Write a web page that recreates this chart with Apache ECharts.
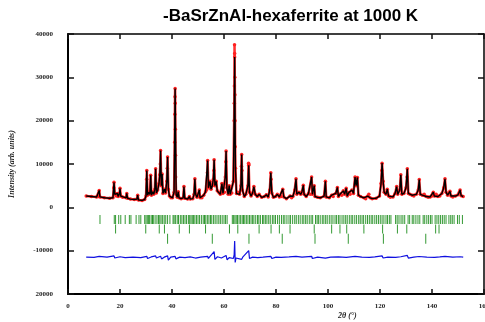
<!DOCTYPE html>
<html><head><meta charset="utf-8">
<script src="https://cdn.jsdelivr.net/npm/echarts@6/dist/echarts.min.js"></script>
<style>html,body{margin:0;padding:0;background:#fff}#c{width:485px;height:322px}</style>
</head><body><div id="c"></div><script>
// Calculated profile vertices [2theta, intensity]
const calc = [
[7.0,2600],[9,2500],[11,2400],[11.7,2500],[12.0,3900],[12.3,2400],[14,2200],[16,2100],[17.3,2200],[17.7,5800],[18.0,3000],[18.6,2600],[19.0,3200],[19.3,2500],[19.8,3200],[20.0,4400],[20.3,2600],[21,2300],[22.3,2200],[22.6,3200],[22.9,2100],[24,1900],[25.5,1800],[26.5,1900],[26.8,2800],[27.1,1700],[28.5,1600],[29.5,1800],[30.0,2600],[30.3,8500],[30.6,2800],[31.1,3500],[31.5,3000],[31.8,7400],[32.1,2800],[32.6,3600],[33.0,3000],[33.4,4200],[33.7,8900],[34.0,3300],[34.5,4000],[35.0,5500],[35.3,7500],[35.6,13100],[35.9,5000],[36.2,7700],[36.5,3200],[37.1,4200],[37.5,3300],[38.0,6000],[38.3,11600],[38.6,4200],[39.0,2600],[39.6,2200],[40.2,2200],[40.8,3500],[41.2,27400],[41.6,3000],[42.0,2300],[42.4,3600],[42.7,2200],[43.5,2000],[44.3,2200],[44.6,4800],[44.9,2100],[46,1900],[46.7,2500],[47.0,1900],[48.0,2000],[48.5,3000],[48.8,6600],[49.1,3000],[49.6,2300],[50.2,2600],[50.5,4000],[50.8,2200],[51.5,2200],[52.2,2800],[52.9,3600],[53.3,4000],[53.7,10800],[54.0,4500],[54.6,6000],[55.0,4200],[55.5,5000],[55.9,6500],[56.2,11000],[56.5,5000],[57.0,6000],[57.4,3800],[58.0,3500],[58.6,3000],[59.2,5500],[59.6,3200],[60.2,3500],[60.5,7000],[60.8,13000],[61.1,4500],[61.6,3000],[62.0,5000],[62.4,3000],[63.0,3300],[63.6,6000],[63.9,20000],[64.1,34700],[64.4,9000],[64.8,3200],[65.3,3500],[66.0,3000],[66.5,5000],[66.8,12200],[67.1,4000],[67.8,2500],[68.4,3000],[69.2,5000],[69.5,9700],[69.8,3500],[70.4,2600],[71.0,3300],[71.5,4800],[72.0,3000],[72.8,2500],[73.5,3000],[74.5,2300],[75.5,2500],[76.3,2900],[77.0,2400],[77.6,4000],[78.0,8000],[78.4,3300],[79.0,2300],[79.8,2500],[80.5,3000],[81.3,2400],[82.0,2500],[82.6,4200],[83.0,2400],[84.0,2000],[85.4,2600],[86.0,2200],[86.5,2500],[87.2,4000],[87.7,6600],[88.0,3000],[88.8,3500],[89.5,3000],[90.0,3600],[90.5,5100],[90.8,3000],[91.6,2500],[92.5,3200],[93.2,3000],[93.7,7000],[94.0,3000],[94.7,5000],[95.0,2500],[96.0,2300],[97.0,2200],[98.5,2600],[99.0,6000],[99.3,2400],[100.5,2200],[101.4,2800],[102.0,2500],[103.0,3200],[103.6,4600],[104.0,2500],[104.6,3000],[105.3,2800],[105.9,3800],[106.4,3000],[107.0,4400],[107.4,2600],[108.0,3400],[108.5,3000],[109.2,4000],[109.8,3200],[110.4,7000],[110.8,5000],[111.3,6900],[111.7,2800],[112.5,2500],[113.8,2200],[114.5,2000],[115.3,2600],[115.7,3000],[116.2,2200],[117.0,2000],[118.5,2100],[119.8,2600],[120.4,5500],[120.8,10200],[121.2,6000],[121.6,3500],[122.3,3000],[122.8,4200],[123.3,2600],[124.0,2300],[125.0,2400],[125.8,3200],[126.4,4800],[126.8,3000],[127.6,4000],[128.0,7500],[128.4,3000],[129.2,3200],[130.0,4500],[130.5,8900],[130.9,3200],[131.5,3000],[132.3,2800],[133.0,2600],[134.0,3000],[134.7,4000],[135.1,6400],[135.5,3000],[136.3,2800],[137.0,3000],[137.8,2500],[138.5,2300],[139.3,2400],[140.0,2600],[140.5,3500],[140.9,2600],[141.6,3000],[142.3,2500],[143.0,2600],[143.8,3200],[144.5,4500],[145.0,6600],[145.4,3500],[146.0,2800],[146.9,3700],[147.3,2600],[148.0,2400],[149.0,2600],[150.0,2900],[150.5,3500],[150.8,4000],[151.2,2700],[152.0,2500]
];
const obsExtra = [
[17.6,4500],[30.25,6500],[35.5,10000],[38.2,9000],[41.05,15000],[41.1,21500],[41.15,25500],[41.25,24000],[41.3,18000],[41.35,12000],[41.4,7000],
[53.6,8000],[56.1,8500],[60.7,10500],[63.95,24000],[64.0,28000],[64.05,37500],[64.1,35500],[64.15,30000],[64.2,26000],[64.25,20000],[64.3,14000],
[66.7,9500],[66.9,8500],[69.45,10200],[69.55,9900],[78.1,6500],[120.7,8500],[130.4,7000]
];
// Difference curve
const diff = [
[7,-11500],[10,-11550],[12,-11300],[12.3,-11600],[15,-11500],[17.7,-11200],[18,-11700],[20,-11400],[22,-11600],[25,-11500],[28,-11600],[30.3,-11300],[30.6,-11800],[32,-11450],[33.7,-11200],[34,-11700],[35.6,-11300],[36,-11900],[37,-11500],[38.3,-11200],[38.6,-12200],[39.5,-11500],[41.2,-11300],[41.5,-11900],[43,-11500],[45,-11600],[47,-11450],[49,-11700],[51,-11500],[53.7,-11300],[54,-11800],[56.2,-10200],[56.5,-12000],[57.5,-11400],[59,-11700],[60.8,-11100],[61.2,-12100],[62,-11600],[63.6,-11800],[63.9,-11000],[64.1,-7800],[64.3,-12700],[64.6,-11700],[65.3,-11400],[66.8,-12000],[67.2,-11500],[69.5,-10000],[69.8,-11800],[71,-11500],[73,-11600],[75,-11500],[78,-11300],[78.4,-11800],[80,-11500],[82,-11550],[85,-11450],[87.7,-11300],[88,-11700],[90,-11500],[93.7,-11300],[94,-11800],[96,-11500],[99,-11700],[101,-11500],[104,-11450],[107,-11550],[110.4,-11300],[111,-11700],[113,-11500],[116,-11550],[118,-11450],[120.8,-11200],[121.2,-11700],[123,-11500],[126,-11550],[128,-11400],[130.5,-11100],[130.9,-11700],[133,-11500],[135,-11350],[135.5,-11700],[138,-11500],[141,-11550],[143,-11450],[145,-11300],[145.4,-11700],[148,-11500],[150.8,-11400],[152,-11500]
];
// Bragg reflection positions (three phases)
const bragg1 = [12.3,17.8,18.3,19.5,20.3,22.0,23.6,24.2,26.2,27.3,28.0,29.5,30.0,30.5,31.0,31.4,32.0,32.5,32.8,33.5,34.2,34.8,35.3,35.8,36.4,37.0,37.6,38.3,39.2,40.4,40.8,41.3,42.0,42.5,43.2,43.8,44.4,45.0,45.6,46.3,46.8,47.3,47.8,48.3,48.8,49.4,50.0,50.6,51.3,52.0,52.5,53.0,53.6,54.2,54.8,55.3,56.0,56.6,57.3,58.0,58.6,59.3,60.0,60.6,61.2,63.2,63.7,64.2,64.7,65.2,65.8,66.4,67.0,67.5,68.0,68.6,69.2,69.8,70.4,71.0,71.5,72.2,72.9,73.4,74.0,74.8,75.3,75.9,76.5,77.2,77.8,78.6,79.2,79.8,80.6,81.3,82.1,82.8,83.4,84.2,85.0,85.6,86.4,87.2,87.8,88.6,89.3,90.1,90.7,91.4,92.0,92.8,93.5,94.1,95.2,95.8,96.3,97.0,97.8,98.4,99.1,99.7,100.5,101.2,101.9,102.7,103.3,104.0,104.6,105.4,106.1,106.8,107.4,108.2,108.9,109.5,110.3,111.0,111.8,112.4,113.1,113.7,114.5,115.2,115.9,116.6,117.2,118.0,118.7,119.4,120.1,120.8,121.5,122.3,122.9,123.6,124.2,126.0,126.6,127.3,128.1,128.8,129.5,130.8,131.4,132.4,133.0,133.8,134.6,135.3,136.6,137.2,138.0,138.7,139.4,140.0,141.2,141.9,142.6,143.3,144.0,144.7,145.4,146.5,147.2,147.8,148.5,149.8,150.5,151.7];
const bragg2 = [18.3,29.9,35.1,37.1,42.8,46.7,52.9,62.1,65.3,73.5,78.1,81.3,85.4,94.7,101.4,104.6,107.2,113.8,121.0,126.7,130.3,141.4,142.7];
const bragg3 = [38.3,55.5,69.6,82.4,95.0,107.8,121.3,137.6];
// Axis ticks
const yTickValues = [-20000,-10000,0,10000,20000,30000,40000];
const yTickText = ["20000","-10000","0","10000","20000","30000","40000"];
const xTickValues = [0,20,40,60,80,100,120,140,160];

const observed = calc.concat(obsExtra).sort((a,b)=>a[0]-b[0]);
const rowY = [-2800,-5000,-7250];

const chart = echarts.init(document.getElementById('c'));
const labelFont = {fontFamily:'Liberation Serif', fontWeight:'bold', fontSize:7, color:'#222'};
chart.setOption({
  animation:false,
  backgroundColor:'#fff',
  title:{text:'-BaSrZnAl-hexaferrite at 1000 K', left:158, top:3,
    textStyle:{fontFamily:'Liberation Sans', fontWeight:'bold', fontSize:17, color:'#000'}},
  grid:{left:68, right:1, top:34, bottom:28, outerBoundsMode:'none', containLabel:false},
  graphic:[{type:'text', left:338, top:312, style:{text:'2θ (°)', font:'italic bold 8px "Liberation Serif"', fill:'#222'}}],
  xAxis:[
    {type:'value', min:0, max:160, interval:20, position:'bottom',
     axisLine:{show:true, onZero:false, lineStyle:{color:'#000', width:2}},
     axisTick:{show:true, inside:true, length:5, lineStyle:{color:'#111', width:1.5}},
     splitLine:{show:false},
     axisLabel:Object.assign({margin:9, formatter:v=>xTickValues.includes(v)?String(v):''}, labelFont)},
    {type:'value', min:0, max:160, interval:20, position:'top',
     axisLine:{show:true, onZero:false, lineStyle:{color:'#000', width:1.5}},
     axisTick:{show:true, inside:true, length:5, lineStyle:{color:'#111', width:1.5}},
     splitLine:{show:false}, axisLabel:{show:false}}
  ],
  yAxis:[
    {type:'value', min:-20000, max:40000, interval:10000, position:'left',
     name:'Intensity (arb. units)', nameLocation:'middle', nameGap:52,
     nameTextStyle:{fontFamily:'Liberation Serif', fontStyle:'italic', fontWeight:'bold', fontSize:8, color:'#222'},
     axisLine:{show:true, onZero:false, lineStyle:{color:'#000', width:2}},
     axisTick:{show:true, inside:true, length:6, lineStyle:{color:'#111', width:1.5}},
     splitLine:{show:false},
     axisLabel:Object.assign({margin:15, formatter:v=>{const i=yTickValues.indexOf(v);return i>=0?yTickText[i]:'';}}, labelFont)},
    {type:'value', min:-20000, max:40000, interval:10000, position:'right',
     axisLine:{show:true, onZero:false, lineStyle:{color:'#000', width:1.5}},
     axisTick:{show:true, inside:true, length:6, lineStyle:{color:'#111', width:1.5}},
     splitLine:{show:false}, axisLabel:{show:false}}
  ],
  series:[
    {name:'obs', type:'line', data:observed, symbol:'circle', symbolSize:3.5, showSymbol:true,
     itemStyle:{color:'#ff2020'}, lineStyle:{color:'#ff3030', width:2.5}, z:2},
    {name:'calc', type:'line', data:calc, symbol:'none', lineStyle:{color:'#000', width:1.4}, z:3},
    {name:'diff', type:'line', data:diff, symbol:'none', lineStyle:{color:'#1010e0', width:1.2}, z:3},
    {name:'phase1', type:'scatter', data:bragg1.map(x=>[x,rowY[0]]), symbol:'rect', symbolSize:[1,9], itemStyle:{color:'#008000'}, z:3},
    {name:'phase2', type:'scatter', data:bragg2.map(x=>[x,rowY[1]]), symbol:'rect', symbolSize:[1,9], itemStyle:{color:'#008000'}, z:3},
    {name:'phase3', type:'scatter', data:bragg3.map(x=>[x,rowY[2]]), symbol:'rect', symbolSize:[1,10], itemStyle:{color:'#008000'}, z:3}
  ]
});
</script></body></html>
